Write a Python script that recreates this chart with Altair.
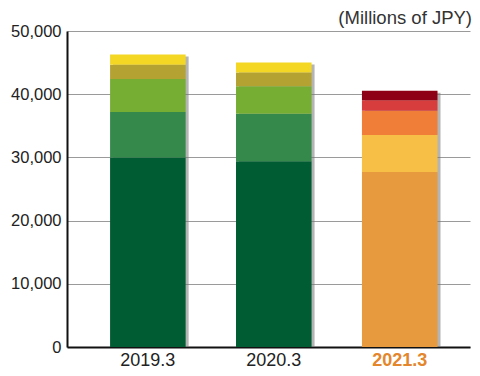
import altair as alt
import pandas as pd

years = ["2019.3", "2020.3", "2021.3"]
v2019 = [30000, 7200, 5200, 2250, 1650]
v2020 = [29400, 7500, 4350, 2200, 1550]
v2021 = [27700, 5850, 3850, 1650, 1500]
green_colors = ["#005C32", "#358A4B", "#76AE34", "#B4A332", "#F4D725"]
orange_colors = ["#E89A3E", "#F8BF46", "#F07E38", "#D63D3C", "#8E0016"]
y_ticks = [0, 10000, 20000, 30000, 40000, 50000]

rows = []
for year, vals, pal in zip(years, [v2019, v2020, v2021], ["g", "g", "o"]):
    for i, v in enumerate(vals):
        rows.append({"year": year, "seg": i + 1, "key": f"{pal}{i + 1}", "value": v})
df = pd.DataFrame(rows)

keys = [f"g{i + 1}" for i in range(5)] + [f"o{i + 1}" for i in range(5)]

font = "Liberation Sans"

x = alt.X(
    "year:N",
    sort=years,
    scale=alt.Scale(domain=years, paddingInner=0.4, paddingOuter=0.3, align=0.57),
    axis=alt.Axis(
        title=None, labelAngle=0, ticks=False, domainColor="#111", domainWidth=2,
        labelFontSize=18, labelFont=font, labelPadding=4,
        labelColor=alt.expr("datum.value == '2021.3' ? '#E3862C' : '#222'"),
        labelFontWeight=alt.expr("datum.value == '2021.3' ? 'bold' : 'normal'"),
    ),
)

y_axis = alt.Axis(
    title=None, values=y_ticks, format=",.0f", grid=True, gridColor="#9a9a9a",
    gridWidth=1, ticks=False, domainColor="#111", domainWidth=2,
    labelFontSize=16.5, labelFont=font, labelColor="#222", labelPadding=6,
)

shadow = alt.Chart(df).mark_bar(
    color="#777", opacity=0.55, xOffset=3, yOffset=2, clip=True
).encode(
    x=x,
    y=alt.Y("sum(value):Q", scale=alt.Scale(domain=[0, 50000], nice=False), axis=y_axis),
)

bars = alt.Chart(df).mark_bar(strokeWidth=0).encode(
    x=x,
    y=alt.Y("value:Q", stack="zero", scale=alt.Scale(domain=[0, 50000], nice=False), axis=y_axis),
    color=alt.Color("key:N", scale=alt.Scale(domain=keys, range=green_colors + orange_colors), legend=None),
    order=alt.Order("seg:Q", sort="ascending"),
)

chart = alt.layer(shadow, bars).properties(
    width=403,
    height=316,
    padding={"left": 59, "top": 23, "right": 2, "bottom": 21},
    autosize=alt.AutoSizeParams(type="none"),
    title=alt.TitleParams(
        "(Millions of JPY)", anchor="end", fontSize=18.5, font=font,
        fontWeight="normal", color="#333", offset=6, dx=2, dy=10,
    ),
).configure_view(stroke=None)

chart.save("out.html", embed_options={"renderer": "svg", "actions": False})
